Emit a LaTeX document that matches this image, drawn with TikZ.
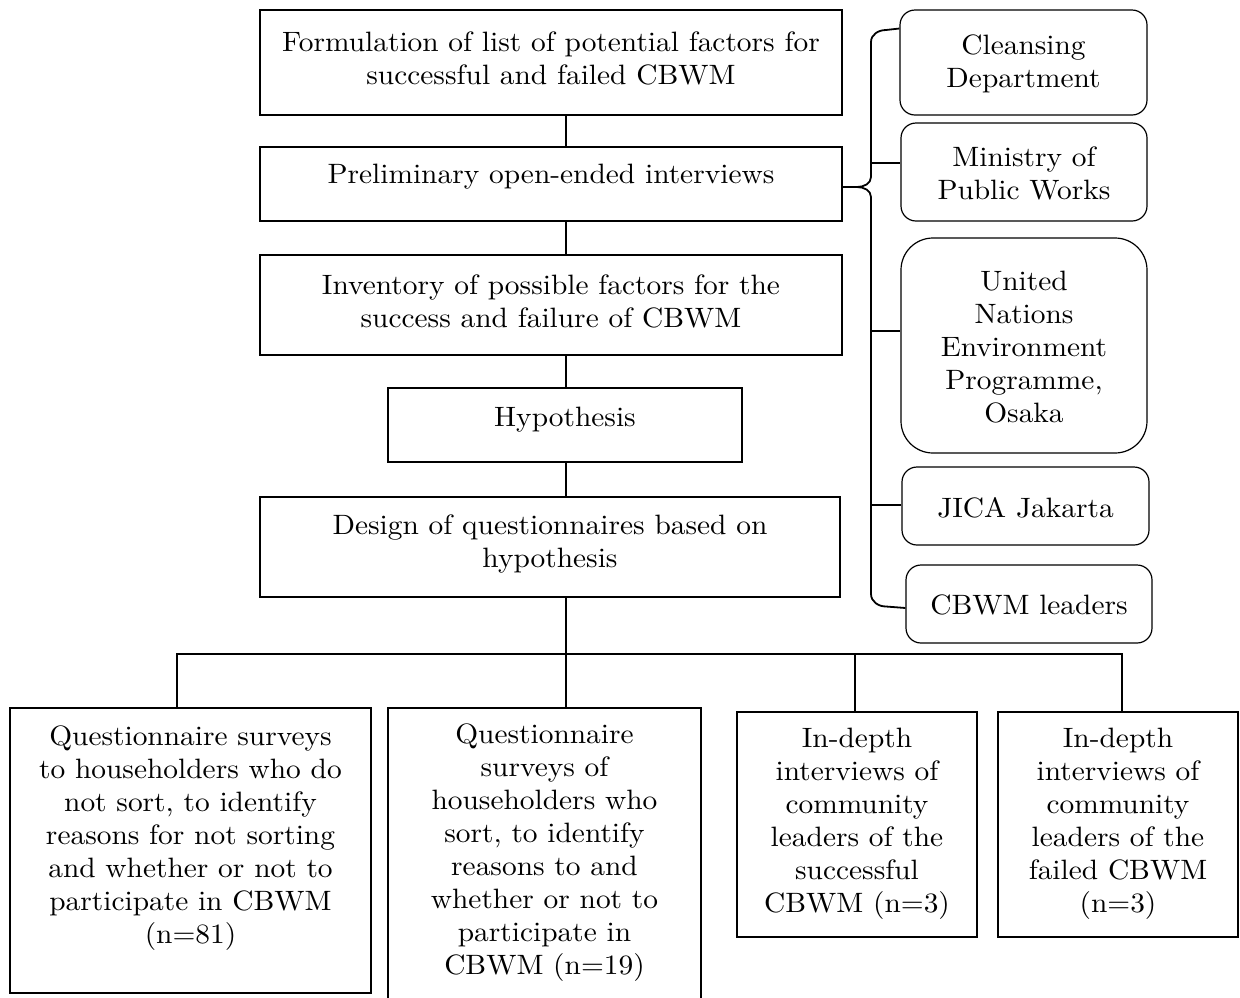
\documentclass[tikz,border=0pt]{standalone}
\usepackage{fontspec}
\setmainfont{lmroman10-regular.otf}[FakeStretch=1.05]
\begin{document}
\begin{tikzpicture}[x=1pt,y=-1pt,
  stepbox/.style={draw, line width=1.2pt, inner sep=0pt},
  orgbox/.style={draw, line width=1.2pt, inner sep=0pt, rounded corners=15pt},
  txt/.style={align=center, inner sep=0pt, font=\fontsize{28}{33}\selectfont},
  link/.style={line width=1.4pt},
  bracket/.style={line width=1.8pt, line join=round}]
\useasboundingbox (0,0) rectangle (1240,997);

% main sequence of steps
\node[stepbox, minimum width=582pt, minimum height=105pt] (f1) at (551,62.5) {};
\node[txt] (t1) at (551,58) {Formulation of list of potential factors for\\successful and failed CBWM};
\node[stepbox, minimum width=582pt, minimum height=74pt] (f2) at (551,184) {};
\node[txt] (t2) at (551,177) {Preliminary open-ended interviews};
\node[stepbox, minimum width=582pt, minimum height=100pt] (f3) at (551,305) {};
\node[txt] (t3) at (551,301.5) {Inventory of possible factors for the\\success and failure of CBWM};
\node[stepbox, minimum width=354pt, minimum height=74pt] (f4) at (565,425) {};
\node[txt] (t4) at (565,420) {Hypothesis};
\node[stepbox, minimum width=580pt, minimum height=100pt] (f5) at (550,547) {};
\node[txt] (t5) at (550,543.5) {Design of questionnaires based on\\hypothesis};

% surveys and interviews
\node[stepbox, minimum width=361pt, minimum height=285pt] (qa) at (190.5,850.5) {};
\node[txt] (ta) at (190.5,838.5) {Questionnaire surveys\\to householders who do\\not sort, to identify\\reasons for not sorting\\and whether or not to\\participate in CBWM\\(n=81)};
\node[stepbox, minimum width=313pt, minimum height=302pt] (qb) at (544.5,859) {};
\node[txt] (tb) at (544.5,853) {Questionnaire\\surveys of\\householders who\\sort, to identify\\reasons to and\\whether or not to\\participate in\\CBWM (n=19)};
\node[stepbox, minimum width=240pt, minimum height=225pt] (qc) at (857,824.5) {};
\node[txt] (tc) at (857,824) {In-depth\\interviews of\\community\\leaders of the\\successful\\CBWM (n=3)};
\node[stepbox, minimum width=240pt, minimum height=225pt] (qd) at (1118,824.5) {};
\node[txt] (td) at (1118,824) {In-depth\\interviews of\\community\\leaders of the\\failed CBWM\\(n=3)};

% organisations interviewed
\node[orgbox, minimum width=247pt, minimum height=105pt] (r1) at (1023.5,62.5) {};
\node[txt] (s1) at (1023.5,64) {Cleansing\\Department};
\node[orgbox, minimum width=246pt, minimum height=98pt] (r2) at (1024,172) {};
\node[txt] (s2) at (1024,173) {Ministry of\\Public Works};
\node[orgbox, rounded corners=32pt, minimum width=246pt, minimum height=215pt] (r3) at (1024,345.5) {};
\node[txt] (s3) at (1024,347) {United\\Nations\\Environment\\Programme,\\Osaka};
\node[orgbox, minimum width=247pt, minimum height=78pt] (r4) at (1025.5,506) {};
\node[txt] (s4) at (1025.5,508) {JICA Jakarta};
\node[orgbox, minimum width=246pt, minimum height=78pt] (r5) at (1029,604) {};
\node[txt] (s5) at (1029,605) {CBWM leaders};

% spine and branch points
\coordinate (sp) at (566,654);
\coordinate (da) at (177,654);
\coordinate (dc) at (855,654);
\coordinate (dd) at (1122,654);
\coordinate (tip) at (857,187);
\coordinate (bx) at (871,0);

\draw[link] (f1.south -| sp) -- (f2.north -| sp);
\draw[link] (f2.south -| sp) -- (f3.north -| sp);
\draw[link] (f3.south -| sp) -- (f4.north -| sp);
\draw[link] (f4.south -| sp) -- (f5.north -| sp);
\draw[link] (f5.south -| sp) -- (qb.north -| sp);
\draw[link] (qa.north -| da) -- (da) -- (dd) -- (qd.north -| dd);
\draw[link] (dc) -- (qc.north -| dc);

% bracket joining the interviews to the organisations
\draw[bracket] (f2.east |- tip) -- (tip) to[out=0,in=-90] (871,177) -- (871,42)
  to[out=90,in=180] (886,30) -- (r1.west |- 0,28.5);
\draw[bracket] (tip) to[out=0,in=90] (871,197) -- (871,594)
  to[out=-90,in=180] (886,606.5) -- (r5.west |- 0,608);
\draw[bracket] (bx |- 0,163) -- (r2.west |- 0,163);
\draw[bracket] (bx |- 0,331) -- (r3.west |- 0,331);
\draw[bracket] (bx |- 0,505) -- (r4.west |- 0,505);
\end{tikzpicture}
\end{document}
